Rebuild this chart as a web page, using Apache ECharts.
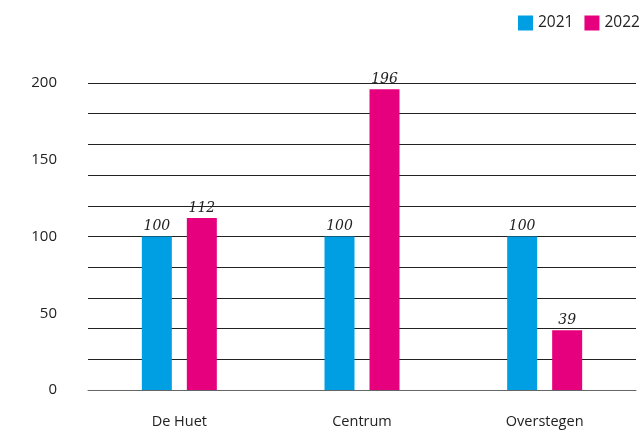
<!DOCTYPE html>
<html>
<head>
<meta charset="utf-8">
<script src="https://cdn.jsdelivr.net/npm/echarts@6/dist/echarts.min.js"></script>
<style>
  html, body { margin: 0; padding: 0; background: #fff; }
  #main { width: 640px; height: 440px; }
</style>
</head>
<body>
<div id="main"></div>
<script>
	var categories = ['De Huet', 'Centrum', 'Overstegen'];
	var values2021 = [100, 100, 100];
	var values2022 = [112, 196, 39];
	var yLabelTicks = [0, 50, 100, 150, 200];

	var barLabel = {
		show: true,
		position: 'top',
		distance: 3,
		fontFamily: 'DejaVu Serif',
		fontStyle: 'italic',
		fontSize: 14,
		color: '#222'
	};

	var myChart = echarts.init(document.getElementById('main'));

	var option = {
		animation: false,
		legend: {
			left: 513,
			top: 10,
			width: 400,
			orient: 'horizontal',
			icon: 'rect',
			itemWidth: 15,
			itemHeight: 15,
			itemGap: 11,
			textStyle: { fontFamily: 'Open Sans', fontSize: 15.5, color: '#222' },
			data: ['2021', '2022']
		},
		grid: { left: 88, right: 4, top: 83, bottom: 50 },
		xAxis: [{
			type: 'category',
			data: categories,
			axisLine: { lineStyle: { color: '#666', width: 1 } },
			axisTick: { show: false },
			axisLabel: { margin: 24, fontFamily: 'Open Sans', fontSize: 14.5, color: '#222' }
		}],
		yAxis: [{
			// gridlines every 20
			type: 'value',
			min: 0,
			max: 200,
			interval: 20,
			axisLine: { show: false },
			axisTick: { show: false },
			axisLabel: { show: false },
			splitLine: { lineStyle: { color: '#222', width: 1 } }
		}, {
			// labels every 50
			type: 'value',
			position: 'left',
			min: 0,
			max: 200,
			interval: 50,
			axisLine: { show: false },
			axisTick: { show: false },
			splitLine: { show: false },
			axisLabel: {
				margin: 31,
				fontFamily: 'Open Sans',
				fontSize: 15,
				color: '#222',
				padding: [3, 0, 0, 0],
				formatter: function (v) { return yLabelTicks.indexOf(v) >= 0 ? v : ''; }
			}
		}],
		series: [{
			name: '2021',
			type: 'bar',
			yAxisIndex: 0,
			barWidth: 30,
			barGap: '50%',
			itemStyle: { color: '#009FE3' },
			label: barLabel,
			data: values2021
		}, {
			name: '2022',
			type: 'bar',
			yAxisIndex: 0,
			barWidth: 30,
			barGap: '50%',
			itemStyle: { color: '#E6007E' },
			label: barLabel,
			data: values2022
		}]
	};

	myChart.setOption(option);
</script>
</body>
</html>
